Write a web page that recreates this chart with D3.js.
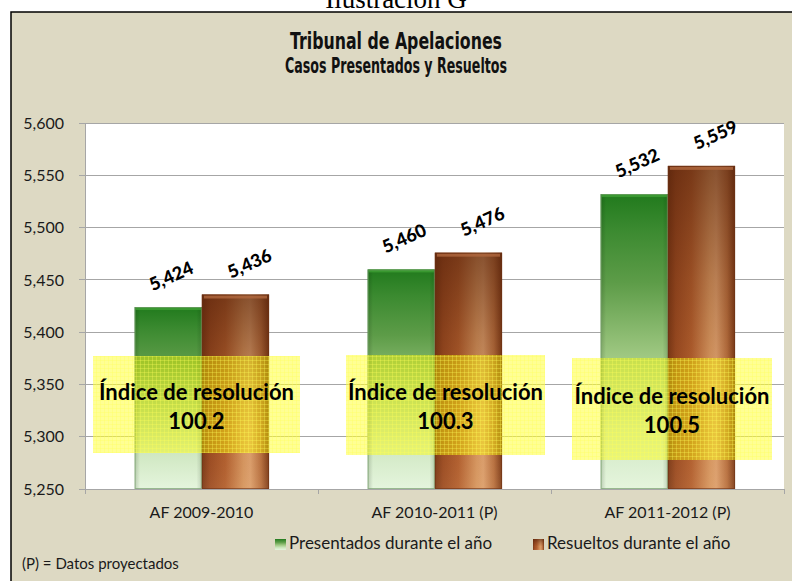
<!DOCTYPE html>
<html><head><meta charset="utf-8">
<script src="https://cdn.jsdelivr.net/npm/d3@7"></script>
<style>html,body{margin:0;padding:0;background:#fff;overflow:hidden}</style>
</head><body>
<svg id="c" width="792" height="581"></svg>
<script>
const categories = ["AF 2009-2010", "AF 2010-2011 (P)", "AF 2011-2012 (P)"];
const seriesNames = ["Presentados durante el año", "Resueltos durante el año"];
const presentados = [5424, 5460, 5532];
const resueltos = [5436, 5476, 5559];
const indices = ["100.2", "100.3", "100.5"];
const yTicks = [5250, 5300, 5350, 5400, 5450, 5500, 5550, 5600];

const svg = d3.select("#c");
const defs = svg.append("defs");
const fontBody = "Lato, 'Open Sans', sans-serif";
const fontTitle = "'DejaVu Sans', sans-serif";

// gradients
const gG = defs.append("linearGradient").attr("id","gGreen").attr("x1",0).attr("y1",0).attr("x2",0).attr("y2",1);
[[0,"#217a1d"],[0.12,"#3b8a30"],[0.3,"#5d9c48"],[0.55,"#9fc882"],[0.8,"#cfe7c1"],[1,"#e5f5dd"]]
  .forEach(([o,c])=>gG.append("stop").attr("offset",o).attr("stop-color",c));
const gGh = defs.append("linearGradient").attr("id","gGreenH").attr("x1",0).attr("y1",0).attr("x2",1).attr("y2",0);
[[0,"rgba(0,40,0,0.18)"],[0.08,"rgba(0,0,0,0)"],[0.92,"rgba(0,0,0,0)"],[1,"rgba(0,40,0,0.15)"]]
  .forEach(([o,c])=>gGh.append("stop").attr("offset",o).attr("stop-color",c));
const gB = defs.append("linearGradient").attr("id","gBrown").attr("x1",0).attr("y1",0).attr("x2",1).attr("y2",0);
[[0,"#7a3816"],[0.12,"#9c4c22"],[0.35,"#b25f2e"],[0.62,"#d6965f"],[0.72,"#dc9f6c"],[0.88,"#b8703f"],[1,"#7c3a17"]]
  .forEach(([o,c])=>gB.append("stop").attr("offset",o).attr("stop-color",c));
const gBv = defs.append("linearGradient").attr("id","gBrownV").attr("x1",0).attr("y1",0).attr("x2",0).attr("y2",1);
[[0,"rgba(80,30,8,0.6)"],[0.35,"rgba(80,30,8,0.25)"],[0.7,"rgba(80,30,8,0)"],[1,"rgba(255,220,180,0.08)"]]
  .forEach(([o,c])=>gBv.append("stop").attr("offset",o).attr("stop-color",c));

// yellow grid pattern
const pat = defs.append("pattern").attr("id","yel").attr("patternUnits","userSpaceOnUse").attr("width",4).attr("height",4);
pat.append("rect").attr("width",4).attr("height",4).attr("fill","rgba(255,255,0,0.42)");
pat.append("rect").attr("width",4).attr("height",1).attr("fill","rgba(255,255,90,0.3)");
pat.append("rect").attr("width",1).attr("height",4).attr("fill","rgba(255,255,90,0.3)");

// frame
svg.append("rect").attr("x",11).attr("y",12).attr("width",820).attr("height",620)
  .attr("fill","#ddd9c3").attr("stroke","#000").attr("stroke-width",1.5);

svg.append("text").attr("x",396).attr("y",8).attr("text-anchor","middle")
  .style("font-family","'Liberation Serif','Times New Roman',serif").style("font-size","27px").text("Ilustración G");

svg.append("text").attr("x",396).attr("y",49).attr("text-anchor","middle")
  .attr("textLength",212).attr("lengthAdjust","spacingAndGlyphs")
  .style("font-family",fontTitle).style("font-weight","bold").style("font-size","23px").style("fill","#111")
  .text("Tribunal de Apelaciones");
svg.append("text").attr("x",396).attr("y",73).attr("text-anchor","middle")
  .attr("textLength",222).attr("lengthAdjust","spacingAndGlyphs")
  .style("font-family",fontTitle).style("font-weight","bold").style("font-size","21px").style("fill","#111")
  .text("Casos Presentados y Resueltos");

const L = 85, R = 784, T = 123, B = 489;
const x = d3.scaleBand().domain(categories).range([L, R]).padding(0);
const y = d3.scaleLinear().domain([5250, 5600]).range([B, T]);
const bw = x.bandwidth();
const xs = d3.scaleBand().domain(seriesNames).range([bw*0.213, bw*0.79]).padding(0);

svg.append("rect").attr("x",L).attr("y",T).attr("width",R-L).attr("height",B-T).attr("fill","#fff");

// grid
svg.append("g").selectAll("line").data(yTicks).join("line")
  .attr("x1",L-6).attr("x2",R).attr("y1",d=>y(d)).attr("y2",d=>y(d))
  .attr("stroke","#a6a6a6").attr("stroke-width",1).attr("shape-rendering","crispEdges");
svg.append("line").attr("x1",L).attr("x2",L).attr("y1",T).attr("y2",B).attr("stroke","#a6a6a6").attr("shape-rendering","crispEdges");
svg.append("g").selectAll("line").data(d3.range(categories.length+1)).join("line")
  .attr("x1",i=>L+i*bw).attr("x2",i=>L+i*bw).attr("y1",B).attr("y2",B+5)
  .attr("stroke","#a6a6a6").attr("shape-rendering","crispEdges");

svg.append("g").selectAll("text").data(yTicks).join("text")
  .attr("x",64).attr("y",d=>y(d)).attr("dy","0.36em").attr("text-anchor","end")
  .style("font-family",fontBody).style("font-size","16px").style("fill","#1a1a1a")
  .text(d=>d3.format(",")(d));

svg.append("g").selectAll("text").data(categories).join("text")
  .attr("x",d=>x(d)+bw/2).attr("y",518).attr("text-anchor","middle")
  .style("font-family",fontBody).style("font-size","16px").style("fill","#1a1a1a").text(d=>d);

// bars
const rows = [];
categories.forEach((c,i)=>{
  rows.push({c, s:seriesNames[0], v:presentados[i], k:0});
  rows.push({c, s:seriesNames[1], v:resueltos[i], k:1});
});
const bars = svg.append("g");
rows.forEach(r=>{
  const bx = x(r.c)+xs(r.s), by = y(r.v), w = xs.bandwidth(), h = B - by;
  if (r.k===0) {
    bars.append("rect").attr("x",bx).attr("y",by).attr("width",w).attr("height",h).attr("fill","url(#gGreen)");
    bars.append("rect").attr("x",bx).attr("y",by).attr("width",w).attr("height",h).attr("fill","url(#gGreenH)");
    bars.append("rect").attr("x",bx+1).attr("y",by).attr("width",w-2).attr("height",3).attr("fill","#3fa034").attr("opacity",0.8);
  } else {
    bars.append("rect").attr("x",bx).attr("y",by).attr("width",w).attr("height",h).attr("fill","url(#gBrown)");
    bars.append("rect").attr("x",bx).attr("y",by).attr("width",w).attr("height",h).attr("fill","url(#gBrownV)");
    bars.append("rect").attr("x",bx+2).attr("y",by+1).attr("width",w-4).attr("height",3).attr("fill","#b0683f").attr("opacity",0.8);
  }
  bars.append("rect").attr("x",bx+0.5).attr("y",by+0.5).attr("width",w-1).attr("height",h-1)
    .attr("fill","none").attr("stroke", r.k===0 ? "rgba(120,160,110,0.7)" : "rgba(110,50,20,0.6)").attr("stroke-width",1);
});

// value labels
const labDx = [3, 14];
svg.append("g").selectAll("text").data(rows).join("text")
  .attr("transform",r=>`translate(${x(r.c)+xs(r.s)+xs.bandwidth()/2+labDx[r.k]},${y(r.v)-31}) rotate(-24)`)
  .attr("text-anchor","middle").attr("dy","0.35em")
  .style("font-family",fontBody).style("font-weight","900").style("font-size","18px").style("fill","#000")
  .text(r=>d3.format(",")(r.v));

// index boxes
const boxDx = [-5, 11, 4.5];
const boxTop = [356, 355, 358];
const boxH = [97, 100, 102];
const boxW = [207, 199, 200];
categories.forEach((c,i)=>{
  const cx = x(c)+bw/2+boxDx[i];
  const cy = boxTop[i] + boxH[i]/2;
  svg.append("rect").attr("x",cx-boxW[i]/2).attr("y",boxTop[i]).attr("width",boxW[i]).attr("height",boxH[i]).attr("fill","url(#yel)");
  svg.append("text").attr("x",cx).attr("y",cy-5).attr("text-anchor","middle")
    .style("font-family",fontBody).style("font-weight","bold").style("font-size","22px").style("fill","#000")
    .text("Índice de resolución");
  svg.append("text").attr("x",cx).attr("y",cy+24).attr("text-anchor","middle")
    .style("font-family",fontBody).style("font-weight","bold").style("font-size","22px").style("fill","#000")
    .text(indices[i]);
});

// legend
const legX = [275, 533];
seriesNames.forEach((s,i)=>{
  svg.append("rect").attr("x",legX[i]).attr("y",539).attr("width",11).attr("height",11)
    .attr("fill", i===0 ? "url(#gGreen)" : "url(#gBrown)");
  if (i===1) svg.append("rect").attr("x",legX[i]).attr("y",539).attr("width",11).attr("height",11).attr("fill","url(#gBrownV)");
  svg.append("text").attr("x",legX[i]+14).attr("y",549)
    .style("font-family",fontBody).style("font-size","17px").style("fill","#1a1a1a").text(s);
});

svg.append("text").attr("x",22).attr("y",569)
  .style("font-family",fontBody).style("font-size","15px").style("fill","#1a1a1a").text("(P) = Datos proyectados");
</script>
</body></html>
